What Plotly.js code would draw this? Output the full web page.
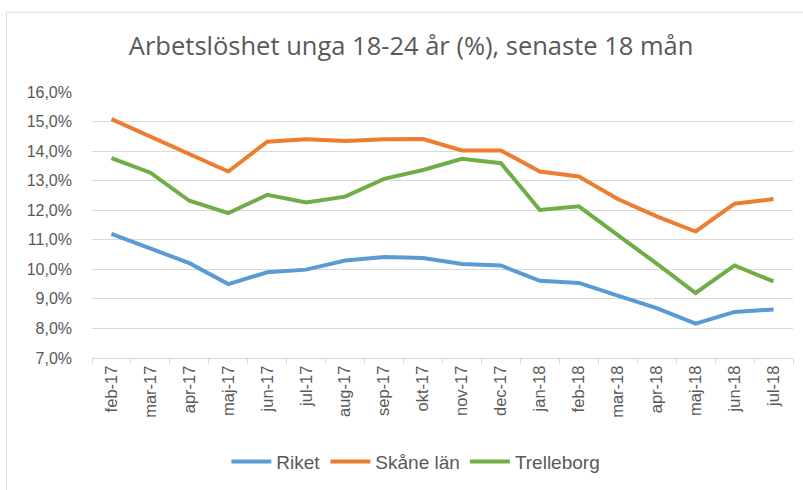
<!DOCTYPE html>
<html><head><meta charset="utf-8">
<script src="https://cdn.plot.ly/plotly-3.0.1.min.js"></script>
<style>html,body{margin:0;padding:0;background:#fff}#c{width:803px;height:490px}</style>
</head><body><div id="c"></div>
<script>
const months = ["feb-17","mar-17","apr-17","maj-17","jun-17","jul-17","aug-17","sep-17","okt-17","nov-17","dec-17","jan-18","feb-18","mar-18","apr-18","maj-18","jun-18","jul-18"];
const riket = [11.20,10.69,10.21,9.50,9.90,9.99,10.30,10.42,10.38,10.18,10.13,9.61,9.54,9.11,8.69,8.16,8.56,8.64];
const skane = [15.08,14.48,13.88,13.31,14.32,14.40,14.34,14.40,14.41,14.02,14.02,13.31,13.14,12.38,11.79,11.28,12.22,12.38];
const trelleborg = [13.76,13.27,12.32,11.90,12.52,12.26,12.46,13.06,13.36,13.74,13.59,12.01,12.13,11.17,10.19,9.20,10.13,9.59];
const yTicks = [7,8,9,10,11,12,13,14,15,16];

const mk = (name, y, color) => ({type:'scatter', mode:'lines', name, x:months, y, line:{color, width:4}, hoverinfo:'skip'});
const data = [mk('Riket', riket, '#5B9BD5'), mk('Skåne län', skane, '#ED7D31'), mk('Trelleborg', trelleborg, '#70AD47')];

const layout = {
  width:803, height:490,
  margin:{l:92, r:10, t:92, b:132},
  paper_bgcolor:'#fff', plot_bgcolor:'#fff',
  font:{family:'Liberation Sans, Arial, sans-serif', color:'#595959'},
  title:{text:'Arbetslöshet unga 18-24 år (%), senaste 18 mån', x:0.512, xanchor:'center', y:0.905, yanchor:'middle', font:{size:25.5, color:'#595959', family:'Open Sans, sans-serif'}},
  xaxis:{type:'category', range:[-0.5, months.length-0.5], tickangle:-90, tickfont:{size:16.5, color:'#595959'}, showline:true, linecolor:'#d9d9d9', linewidth:1, ticks:'outside', tickson:'boundaries', ticklen:5, tickcolor:'#d9d9d9', showgrid:false, zeroline:false, fixedrange:true},
  yaxis:{range:[7,16], tickvals:yTicks, ticktext:yTicks.map(v=>v.toFixed(1).replace('.',',')+'%'), tickfont:{size:16, color:'#595959'}, showgrid:true, gridcolor:'#d9d9d9', gridwidth:1, showline:false, zeroline:false, ticks:'', ticklabelstandoff:19, fixedrange:true},
  showlegend:true,
  legend:{orientation:'h', x:0.462, xanchor:'center', y:-0.318, yanchor:'top', font:{size:19, color:'#595959'}, itemwidth:40, tracegroupgap:0},
  shapes:[{type:'rect', xref:'paper', yref:'paper', x0:-0.122, x1:1.1, y0:-0.6, y1:1.30, line:{color:'#d9d9d9', width:1}}]
};
Plotly.newPlot('c', data, layout, {displayModeBar:false, staticPlot:true});
</script></body></html>
